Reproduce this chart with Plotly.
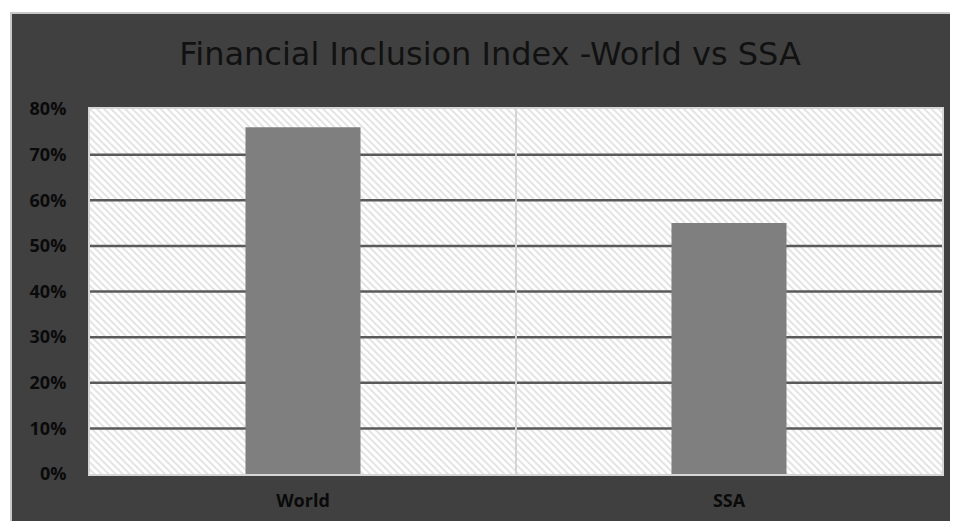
import plotly.graph_objects as go

# ---- data ----
categories = ["World", "SSA"]
values = [0.76, 0.55]
tick_vals = [0, 0.1, 0.2, 0.3, 0.4, 0.5, 0.6, 0.7, 0.8]
tick_text = ["0%", "10%", "20%", "30%", "40%", "50%", "60%", "70%", "80%"]
title_text = "Financial Inclusion Index -World vs SSA"

Y_MAX = tick_vals[-1]
OFF = 8                      # default page body margin
W, H = 958 - OFF, 521 - OFF  # figure size
# plot area in window pixels: x 90..942, y 109..474
L, R, T, B = 90 - OFF, W - (942 - OFF), 109 - OFF, H - (474 - OFF)
PW, PH = W - L - R, H - T - B

def px_x(p):  # figure pixel -> paper x
    return (p - L) / PW

def px_y(p):  # figure pixel -> paper y
    return (H - B - p) / PH

fig = go.Figure()

# hatched plot-area background (main axes)
fig.add_trace(go.Bar(
    x=[0.5], y=[Y_MAX], width=[1], xaxis="x", yaxis="y",
    marker=dict(color="white", line=dict(width=0),
                pattern=dict(shape="\\", fgcolor="#c4c4c4", bgcolor="white",
                             size=5, solidity=0.38)),
    hoverinfo="skip", showlegend=False,
))

# horizontal gridlines (drawn above hatch, below bars)
gx, gy = [], []
for v in tick_vals[1:-1]:
    gx += [0, 1, None]
    gy += [v, v, None]
fig.add_trace(go.Scatter(x=gx, y=gy, mode="lines", xaxis="x", yaxis="y",
                         line=dict(color="#5a5a5a", width=2.5),
                         hoverinfo="skip", showlegend=False))
# vertical category divider
fig.add_trace(go.Scatter(x=[0.5, 0.5], y=[0, Y_MAX], mode="lines", xaxis="x", yaxis="y",
                         line=dict(color="#d4d4d4", width=2),
                         hoverinfo="skip", showlegend=False))

# data bars on overlaid axes
fig.add_trace(go.Bar(
    x=categories, y=values, xaxis="x2", yaxis="y2", width=0.27,
    marker=dict(color="#7f7f7f", line=dict(width=0)),
    showlegend=False,
))

shapes = [
    # white strip at top and left of the dark box (box starts at window 10,12)
    dict(type="rect", xref="paper", yref="paper", x0=px_x(-5), x1=px_x(W + 5),
         y0=px_y(12 - OFF), y1=px_y(-5), fillcolor="white", line=dict(width=0), layer="below"),
    dict(type="rect", xref="paper", yref="paper", x0=px_x(-5), x1=px_x(10 - OFF),
         y0=px_y(H + 5), y1=px_y(-5), fillcolor="white", line=dict(width=0), layer="below"),
    # light border of the dark box
    dict(type="line", xref="paper", yref="paper", x0=px_x(10 - OFF), x1=px_x(W + 5),
         y0=px_y(13 - OFF), y1=px_y(13 - OFF), line=dict(color="#c8c8c8", width=2), layer="below"),
    dict(type="line", xref="paper", yref="paper", x0=px_x(11 - OFF), x1=px_x(11 - OFF),
         y0=px_y(13 - OFF), y1=px_y(H + 5), line=dict(color="#c8c8c8", width=2), layer="below"),
]

fig.update_layout(
    width=W, height=H,
    margin=dict(l=L, r=R, t=T, b=B),
    paper_bgcolor="#404040",
    plot_bgcolor="white",
    barmode="overlay",
    shapes=shapes,
    title=dict(text=title_text, x=(490 - OFF) / W, xanchor="center",
               y=1 - (54 - OFF) / H, yanchor="middle", yref="container", xref="container",
               font=dict(family="DejaVu Sans", size=32, color="#111111")),
    xaxis=dict(range=[0, 1], showticklabels=False, showgrid=False, zeroline=False,
               showline=True, mirror=True, linecolor="#d6d6d6", linewidth=2,
               ticks="", fixedrange=True, automargin=False),
    yaxis=dict(range=[0, Y_MAX], tickvals=tick_vals, ticktext=tick_text,
               showgrid=False, zeroline=False, showline=True, mirror=True,
               linecolor="#d6d6d6", linewidth=2, ticks="", ticklabelstandoff=18,
               automargin=False,
               tickfont=dict(family="Open Sans", size=18, color="#0a0a0a", weight="bold")),
    xaxis2=dict(overlaying="x", anchor="y2", type="category", range=[-0.5, 1.5],
                showgrid=False, zeroline=False, showline=False, ticks="",
                ticklabelstandoff=14, automargin=False,
                tickfont=dict(family="Open Sans", size=18, color="#0a0a0a", weight="bold")),
    yaxis2=dict(overlaying="y", range=[0, Y_MAX], visible=False, automargin=False),
)

fig.write_html("out.html")
